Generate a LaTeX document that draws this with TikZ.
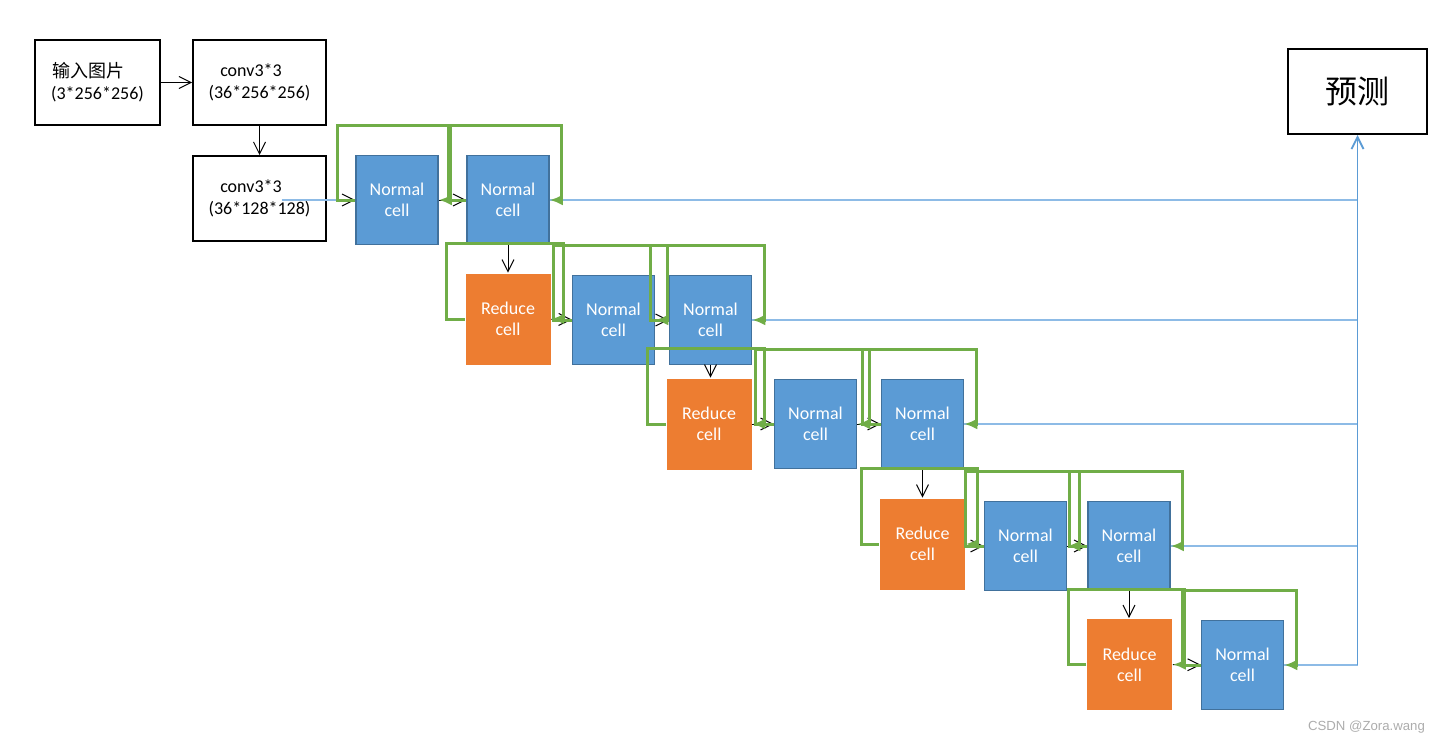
\documentclass[tikz,border=0pt]{standalone}
\usepackage{fontspec}
\setmainfont{Carlito}
\newfontfamily\cjk{Noto Sans CJK SC}
\newfontfamily\markfont{Liberation Sans}
\usetikzlibrary{arrows.meta}
\definecolor{cellblue}{HTML}{5B9BD5}
\definecolor{cellrim}{HTML}{41719C}
\definecolor{reduceorange}{HTML}{ED7D31}
\definecolor{skipgreen}{HTML}{70AD47}
\definecolor{feedblue}{HTML}{8DBBE6}
\definecolor{busblue}{HTML}{5B9BD5}
\newcommand{\Loopback}[1]{%
  \draw[skipline] (#1.west) -- ++(-18,0) |- ([xshift=6pt,yshift=14.5pt]#1.north east)
    -- ([xshift=6pt]#1.east) -- (#1.east);}

\begin{document}
\begin{tikzpicture}[x=0.5pt, y=-0.5pt, >={Straight Barb[length=6pt,width=6pt]},
  box/.style={draw, line width=1pt, minimum width=66.5pt, minimum height=42.5pt,
    inner sep=0pt, align=center, font=\fontsize{9}{11}\selectfont},
  normal/.style={draw=cellrim, line width=0.8pt, fill=cellblue, text=white,
    minimum width=41pt, minimum height=44.5pt, inner sep=0pt, align=center,
    font=\fontsize{9}{10.5}\selectfont},
  reduce/.style={normal, draw=none, fill=reduceorange, minimum width=42.5pt, minimum height=45.5pt},
  flow/.style={->, line width=0.5pt},
  feed/.style={line width=0.7pt, feedblue},
  skipline/.style={line width=1.5pt, skipgreen, -{Latex[length=6.5pt,width=5.5pt]}}]

\useasboundingbox (0,0) rectangle (1447,744);

% stem
\node[box, minimum width=62.5pt] (img) at (97.5,82.5) {{\cjk 输入图片}\kern9pt\\(3*256*256)};
\node[box] (conv1) at (259.5,82.5) {conv3*3\kern8.5pt\\(36*256*256)};
\node[box] (conv2) at (259.5,198.5) {conv3*3\kern8.5pt\\(36*128*128)};
\node[box, minimum width=69.5pt, font=\cjk\fontsize{16}{18}\selectfont] (pred) at (1357.5,91.5) {预测};

% cells
\node[normal] (N1) at (397,200) {Normal\\cell};
\node[normal] (N2) at (508,200) {Normal\\cell};
\node[reduce] (R1) at (508,319) {Reduce\\cell};
\node[normal] (N3) at (613.5,320) {Normal\\cell};
\node[normal] (N4) at (710.5,320) {Normal\\cell};
\node[reduce] (R2) at (709,424) {Reduce\\cell};
\node[normal] (N5) at (815.5,424) {Normal\\cell};
\node[normal] (N6) at (922.5,424) {Normal\\cell};
\node[reduce] (R3) at (922.5,544) {Reduce\\cell};
\node[normal] (N7) at (1025.5,546) {Normal\\cell};
\node[normal] (N8) at (1129,546) {Normal\\cell};
\node[reduce] (R4) at (1129.5,664.5) {Reduce\\cell};
\node[normal] (N9) at (1242.5,665) {Normal\\cell};

% main flow
\draw[flow] (img) -- (conv1);
\draw[flow] (conv1) -- (conv2);
\draw[flow] (conv2.east |- N1.west) -- (N1.west);
\draw[flow] (N1) -- (N2);
\draw[flow] (N2) -- (R1);
\draw[flow] (R1) -- (N3);
\draw[flow] (N3) -- (N4);
\draw[flow] (N4.south) -- (N4.south |- R2.north);
\draw[flow] (R2) -- (N5);
\draw[flow] (N5) -- (N6);
\draw[flow] (N6) -- (R3);
\draw[flow] (R3.east |- N7.west) -- (N7.west);
\draw[flow] (N7) -- (N8);
\draw[flow] (N8.south) -- (N8.south |- R4.north);
\draw[flow] (R4) -- (N9);

% outputs to prediction
\draw[feed] ([xshift=11pt]conv2.center |- N1.west) -- ([xshift=-9pt]N1.west);
\foreach \c in {N2,N4,N6,N8,N9}
  \draw[feed] (\c.east) -- (\c.east -| pred.south);
\draw[feed, busblue, line width=0.9pt, ->] (N9.east -| pred.south) -- (pred.south);

% skip loops
\foreach \c in {N1,N2,R1,N3,N4,R2,N5,N6,R3,N7,N8,R4,N9}
  \Loopback{\c};

\node[text=gray!65, font=\markfont\fontsize{6.6}{7.5}\selectfont, anchor=east] (mark) at (1432,727) {CSDN @Zora.wang};

\end{tikzpicture}
\end{document}
